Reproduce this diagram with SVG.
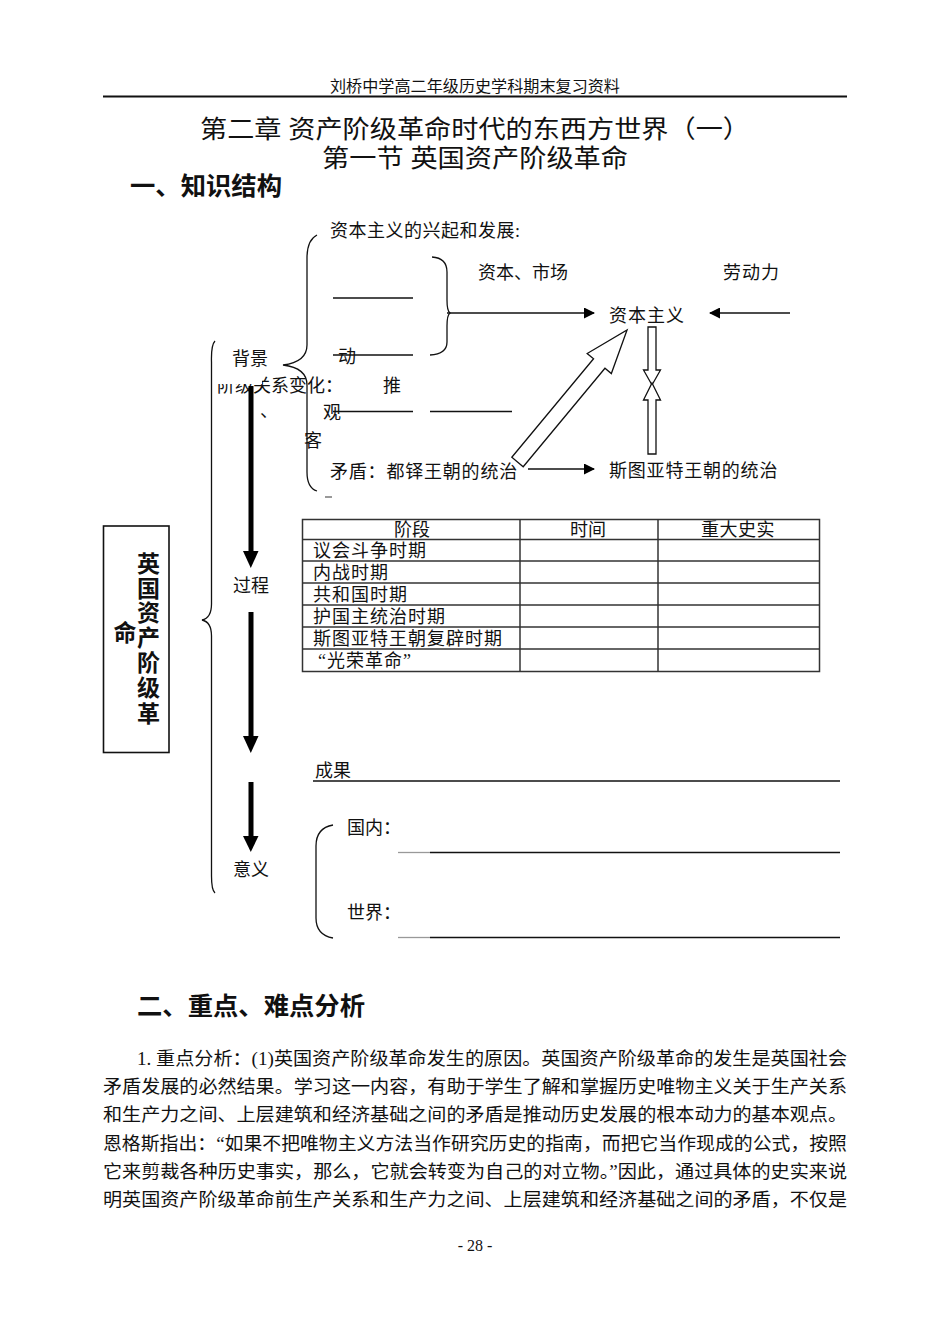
<svg xmlns="http://www.w3.org/2000/svg" width="950" height="1342" viewBox="0 0 950 1342">
<style>
.t{font-family:'Liberation Serif','Noto Sans CJK SC',serif;fill:#111;font-size:18px}
.b{font-weight:bold}
.ln{stroke:#111;stroke-width:1.3;fill:none}
.br{stroke:#111;stroke-width:1.3;fill:none}
.tb{stroke:#333;stroke-width:1.5;fill:none}
.thick{fill:#000}
</style>
<defs>
<marker id="ah" markerUnits="userSpaceOnUse" markerWidth="11" markerHeight="11" refX="10" refY="5.5" orient="auto">
<path d="M0,0 L11,5.5 L0,11 z" fill="#000"/>
</marker>
<clipPath id="clipcls">
<path d="M262,360 H420 V405 H262 Z M200,384 H262 V405 H200 Z"/>
</clipPath>
</defs>
<rect width="950" height="1342" fill="#fff"/>

<g id="header">
<text class="t" x="475" y="92" style="font-size:15.5px" text-anchor="middle" textLength="290" lengthAdjust="spacingAndGlyphs">刘桥中学高二年级历史学科期末复习资料</text>
<line x1="103" y1="96.5" x2="847" y2="96.5" stroke="#111" stroke-width="2"/>
</g>

<g id="titles">
<text class="t" x="200" y="138" style="font-size:25px" textLength="550" lengthAdjust="spacingAndGlyphs">第二章 资产阶级革命时代的东西方世界（一）</text>
<text class="t" x="322" y="167" style="font-size:25px" textLength="306" lengthAdjust="spacingAndGlyphs">第一节 英国资产阶级革命</text>
<text class="t b" x="130" y="195" style="font-size:25px" textLength="152" lengthAdjust="spacingAndGlyphs">一、知识结构</text>
</g>

<g id="box-main">
<rect x="103.5" y="526" width="65.5" height="226.5" fill="none" stroke="#111" stroke-width="1.6"/>
<g class="t b" style="font-size:23px" text-anchor="middle">
<text x="148.5" y="572">英</text>
<text x="148.5" y="597">国</text>
<text x="148.5" y="621">资</text>
<text x="148.5" y="646">产</text>
<text x="148.5" y="671">阶</text>
<text x="148.5" y="696">级</text>
<text x="148.5" y="722">革</text>
<text x="125" y="641">命</text>
</g>
</g>

<g id="braces">
<path class="br" d="M215,341 Q211,345 211.5,362 L211.5,604 Q211.5,618 202,620 Q211.5,622 211.5,636 L211.5,876 Q211.5,890 215,893"/>
<path class="br" d="M317,235 Q307,240 307,258 L307,345 Q307,362 283,365 Q307,368 307,385 L307,472 Q307,488 317,491"/>
<path class="br" d="M432,257 Q447,258 447,272 L447,300 Q447,311 450,313 Q447,315 447,326 L447,342 Q447,354 430,355"/>
<path class="br" d="M333,825 Q316,828 316,846 L316,918 Q316,935 333,938"/>
<line x1="325" y1="497" x2="332" y2="497" stroke="#777" stroke-width="1.5"/>
</g>

<g id="labels">
<text class="t" x="232" y="365">背景</text>
<text class="t" x="217" y="392" clip-path="url(#clipcls)">阶级关系变化：</text>
<text class="t" x="260" y="417">、</text>
<text class="t" x="323" y="419">观</text>
<text class="t" x="304" y="447">客</text>
<text class="t" x="383" y="392">推</text>
<text class="t" x="338" y="363">动</text>
<text class="t" x="330" y="237" letter-spacing="0.5">资本主义的兴起和发展:</text>
<text class="t" x="478" y="279">资本、市场</text>
<text class="t" x="723" y="279" letter-spacing="1">劳动力</text>
<text class="t" x="609" y="322" letter-spacing="1">资本主义</text>
<text class="t" x="330" y="478" letter-spacing="0.8">矛盾：都铎王朝的统治</text>
<text class="t" x="609" y="477" letter-spacing="0.8">斯图亚特王朝的统治</text>
<text class="t" x="233" y="592">过程</text>
<text class="t" x="233" y="876">意义</text>
<text class="t" x="315" y="777">成果</text>
<text class="t" x="347" y="834">国内：</text>
<text class="t" x="347" y="919">世界：</text>
</g>

<g id="blanks">
<line class="ln" x1="333" y1="298" x2="413" y2="298"/>
<line class="ln" x1="333" y1="355" x2="413" y2="355"/>
<line class="ln" x1="333" y1="411.5" x2="413" y2="411.5"/>
<line class="ln" x1="430" y1="411.5" x2="512" y2="411.5"/>
<line class="ln" x1="313" y1="781" x2="840" y2="781"/>
<line x1="398" y1="852.5" x2="430" y2="852.5" stroke="#999" stroke-width="1.3"/>
<line class="ln" x1="430" y1="852.5" x2="840" y2="852.5"/>
<line x1="398" y1="937.5" x2="430" y2="937.5" stroke="#999" stroke-width="1.3"/>
<line class="ln" x1="430" y1="937.5" x2="840" y2="937.5"/>
</g>

<g id="table">
<rect class="tb" x="302.5" y="519.5" width="517" height="152"/>
<line class="tb" x1="520" y1="519.5" x2="520" y2="671.5"/>
<line class="tb" x1="658" y1="519.5" x2="658" y2="671.5"/>
<line class="tb" x1="302.5" y1="539.5" x2="819.5" y2="539.5"/>
<line class="tb" x1="302.5" y1="561" x2="819.5" y2="561"/>
<line class="tb" x1="302.5" y1="583" x2="819.5" y2="583"/>
<line class="tb" x1="302.5" y1="605" x2="819.5" y2="605"/>
<line class="tb" x1="302.5" y1="627" x2="819.5" y2="627"/>
<line class="tb" x1="302.5" y1="649" x2="819.5" y2="649"/>
<text class="t" x="412" y="536" text-anchor="middle">阶段</text>
<text class="t" x="588" y="536" text-anchor="middle">时间</text>
<text class="t" x="738" y="536" text-anchor="middle" letter-spacing="0.5">重大史实</text>
<text class="t" x="313" y="557" letter-spacing="1">议会斗争时期</text>
<text class="t" x="313" y="579" letter-spacing="1">内战时期</text>
<text class="t" x="313" y="601" letter-spacing="1">共和国时期</text>
<text class="t" x="313" y="623" letter-spacing="1">护国主统治时期</text>
<text class="t" x="313" y="645" letter-spacing="1">斯图亚特王朝复辟时期</text>
<text class="t" x="318" y="667" letter-spacing="1">“光荣革命”</text>
</g>

<g id="connectors">
<line class="ln" x1="447" y1="313" x2="594" y2="313" marker-end="url(#ah)"/>
<line class="ln" x1="790" y1="313" x2="710" y2="313" marker-end="url(#ah)"/>
<line class="ln" x1="528" y1="469" x2="594" y2="469" marker-end="url(#ah)"/>
<g transform="translate(517.5,462) rotate(-50.3)">
<polygon points="0,-7.4 128,-7.4 128,-15.7 171.5,0 128,15.7 128,7.4 0,7.4" fill="#fff" stroke="#111" stroke-width="1.3"/>
</g>
<polygon points="648,327 656,327 656,370 660.5,370 652,385 643.5,370 648,370" fill="#fff" stroke="#111" stroke-width="1.3"/>
<polygon points="652,383 660.5,400 656,400 656,454 648,454 648,400 643.5,400" fill="#fff" stroke="#111" stroke-width="1.3"/>
<rect class="thick" x="248.5" y="386" width="5" height="166"/>
<polygon class="thick" points="243,551 258.5,551 250.8,568"/>
<rect class="thick" x="248.5" y="612" width="5" height="125"/>
<polygon class="thick" points="243,736 258.5,736 250.8,753"/>
<rect class="thick" x="248.5" y="782" width="5" height="55"/>
<polygon class="thick" points="243,836 258.5,836 250.8,852"/>
</g>

<g id="section2">
<text class="t b" x="137" y="1015" style="font-size:25px" textLength="228" lengthAdjust="spacingAndGlyphs">二、重点、难点分析</text>
<text class="t" x="137" y="1065" textLength="710" lengthAdjust="spacingAndGlyphs">1. 重点分析：(1)英国资产阶级革命发生的原因。英国资产阶级革命的发生是英国社会</text>
<text class="t" x="103" y="1093" textLength="744" lengthAdjust="spacingAndGlyphs">矛盾发展的必然结果。学习这一内容，有助于学生了解和掌握历史唯物主义关于生产关系</text>
<text class="t" x="103" y="1121" textLength="744" lengthAdjust="spacingAndGlyphs">和生产力之间、上层建筑和经济基础之间的矛盾是推动历史发展的根本动力的基本观点。</text>
<text class="t" x="103" y="1150" textLength="744" lengthAdjust="spacingAndGlyphs">恩格斯指出：“如果不把唯物主义方法当作研究历史的指南，而把它当作现成的公式，按照</text>
<text class="t" x="103" y="1178" textLength="744" lengthAdjust="spacingAndGlyphs">它来剪裁各种历史事实，那么，它就会转变为自己的对立物。”因此，通过具体的史实来说</text>
<text class="t" x="103" y="1206" textLength="744" lengthAdjust="spacingAndGlyphs">明英国资产阶级革命前生产关系和生产力之间、上层建筑和经济基础之间的矛盾，不仅是</text>
<text class="t" x="475" y="1251" style="font-size:16px" text-anchor="middle">- 28 -</text>
</g>
</svg>
